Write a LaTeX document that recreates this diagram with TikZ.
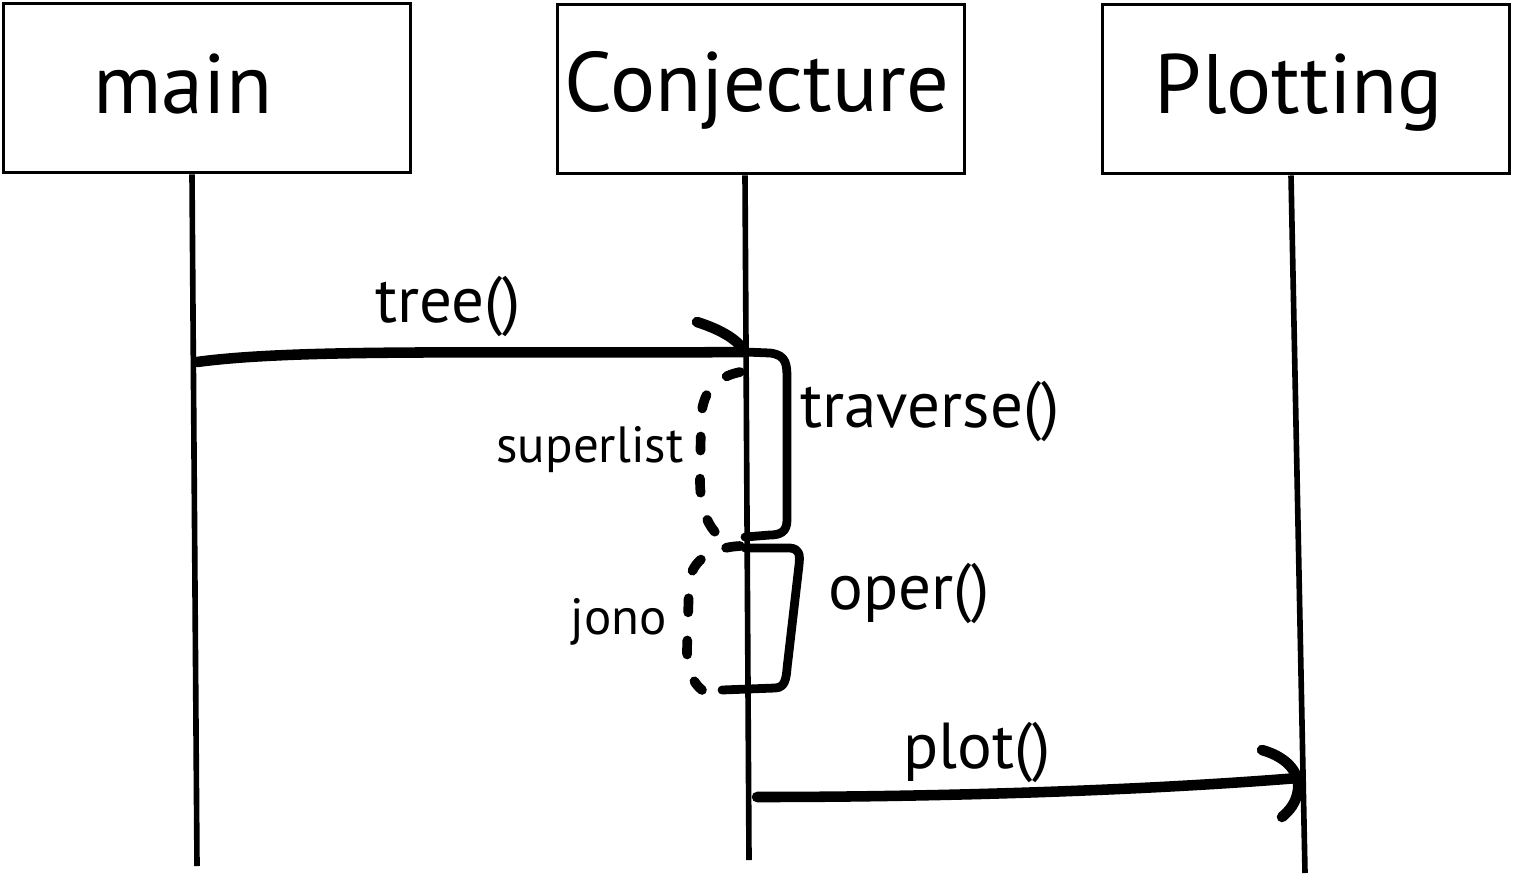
\documentclass[tikz,border=0pt]{standalone}
\usepackage{fontspec}
\setmainfont{PT Sans}
\usetikzlibrary{positioning,calc}

\begin{document}
\begin{tikzpicture}[x=0.02cm,y=-0.02cm,
  objbox/.style={draw,line width=1.7pt,minimum width=8.16cm,minimum height=3.4cm},
  objname/.style={anchor=base,inner sep=0pt,font=\fontsize{48}{52}\selectfont},
  life/.style={line width=3.2pt},
  msg/.style={line width=6pt,line cap=round},
  brk/.style={line width=5pt,line cap=round,line join=round},
  dots/.style={line width=5.5pt,line cap=round,dash pattern=on 8pt off 16pt},
  lbl/.style={inner sep=0pt,font=\fontsize{37}{42}\selectfont},
  smalllbl/.style={inner sep=0pt,font=\fontsize{29}{34}\selectfont}]
  \useasboundingbox (0,0) rectangle (1514,876);
  \def\off{-15} % lifeline offset from box centre
  % the three objects
  \node[objbox] (mainbox) at (207,88) {};
  \node[objbox] (conjbox) at (761,89) {};
  \node[objbox] (plotbox) at (1306,89) {};
  \node[objname] (main) at (183,113) {main};
  \node[objname] (conj) at (757,111) {Conjecture};
  \node[objname] (plot) at (1299,113) {Plotting};
  % lifelines
  \coordinate (mainend) at (197,866);
  \coordinate (conjend) at (749,860);
  \coordinate (plotend) at (1305,873);
  \draw[life] ($(mainbox.south)+(\off,0)$) -- (mainend);
  \draw[life] ($(conjbox.south)+(-16,0)$) -- (conjend);
  \draw[life] ($(plotbox.south)+(\off,0)$) -- (plotend);
  % tree() call
  \coordinate (t0) at (197,362);
  \coordinate (t1) at (745,352);
  \draw[msg] (t0) .. controls (300,348) and (500,354) .. (t1);
  \draw[msg] (697,322) .. controls (722,330) and (738,340) .. (t1);
  \node[lbl] (tree) at (448,307) {tree()};
  % traverse() and oper() brackets
  \draw[brk] (t1) -- (770,353) .. controls (787,355) and (787,365) .. (787,380)
    -- (787,520) .. controls (787,532) and (780,535) .. (770,535) -- (745,537);
  \draw[brk] (745,548) -- (790,548) .. controls (800,549) and (800,555) .. (799,565)
    -- (788,660) .. controls (786,672) and (788,688) .. (775,688) -- (722,690);
  \node[lbl] (trav) at (930,412) {traverse()};
  \node[lbl] (oper) at (909,593) {oper()};
  % dotted returns
  \draw[dots] (740,372) .. controls (712,378) and (702,395) .. (701,420)
    -- (700,480) .. controls (700,515) and (712,540) .. (738,545);
  \draw[dots] (740,546) .. controls (705,548) and (690,565) .. (689,585)
    -- (687,650) .. controls (687,670) and (693,683) .. (702,690);
  \node[smalllbl] (super) at (590,450) {superlist};
  \node[smalllbl] (jono) at (619,622) {jono};
  % plot() call
  \coordinate (p0) at (757,797);
  \coordinate (p1) at (1298,778);
  \draw[msg] (p0) .. controls (950,797) and (1150,790) .. (p1);
  \draw[msg] (1262,750) .. controls (1290,758) and (1300,775) .. (1298,790)
    .. controls (1296,803) and (1290,810) .. (1282,817);
  \node[lbl] (plotlbl) at (977,752) {plot()};
\end{tikzpicture}
\end{document}
